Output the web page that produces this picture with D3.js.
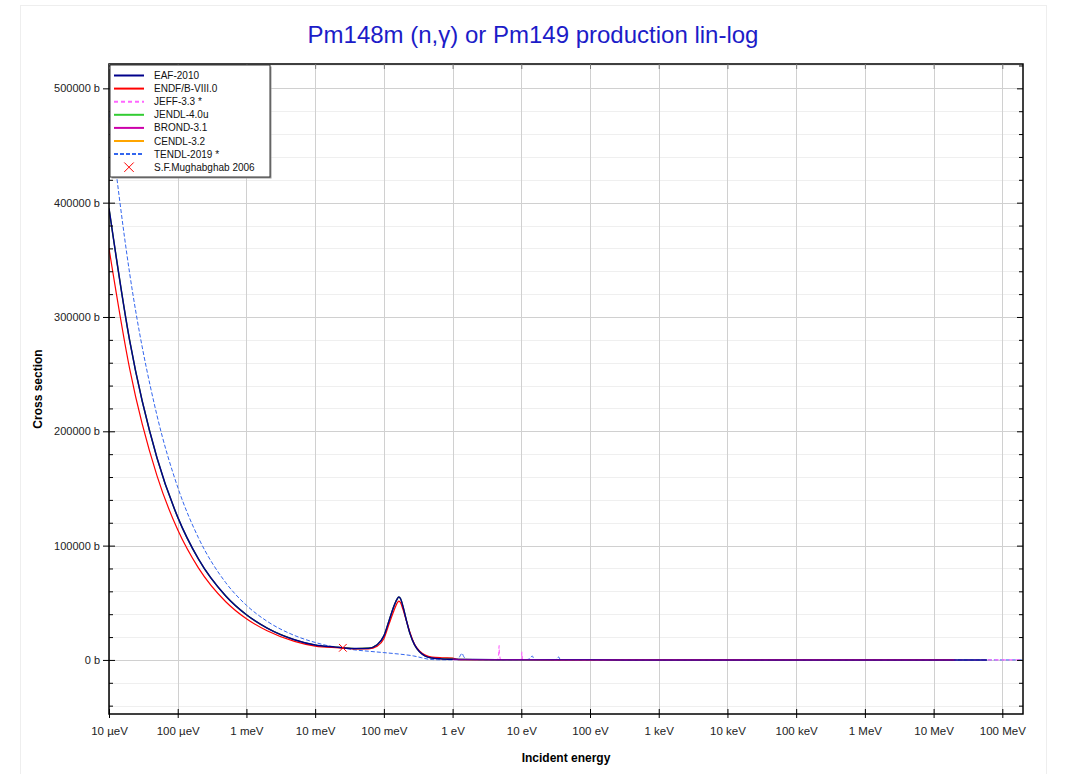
<!DOCTYPE html>
<html>
<head>
<meta charset="utf-8">
<script src="https://cdn.jsdelivr.net/npm/d3@7"></script>
<style>
  body { margin: 0; background: #fff; }
  svg { font-family: "Liberation Sans", Arial, sans-serif; }
</style>
</head>
<body>
<div id="chart"></div>
<script>
// energy grid below 1 eV (eV)
const lowE = [1e-5, 2e-5, 5e-5, 1e-4, 2e-4, 5e-4, 1e-3, 2e-3, 5e-3, 0.01, 0.02, 0.0253, 0.04, 0.06, 0.08,
  0.1, 0.12, 0.14, 0.155, 0.165, 0.175, 0.19, 0.21, 0.24, 0.28, 0.33, 0.4, 0.5, 0.7, 1.0]
// energy grid above 1 eV
const highE = [1.2, 2, 10, 100, 1e3, 1e4, 1e5, 1e6, 1e7, 2e7]

const eafLow = [395000, 279300, 176600, 124900, 88300, 55900, 39500, 27900, 17700, 13000, 11200, 10600, 9900, 10300, 13300,
  21000, 35000, 47000, 53000, 55000, 53500, 46600, 36000, 23000, 13100, 7200, 3400, 1700, 900, 600]
const eafHigh = [400, 300, 200, 80, 25, 8, 3, 1, 0.5, 0.4]
const eafTailE = [6e7]
const eafTail = [0.3]

const endfLow = [360000, 254600, 161000, 113800, 80500, 50900, 36000, 25500, 16200, 12100, 10700, 10400, 9600, 9700, 12000,
  18500, 32000, 43000, 49500, 51500, 50000, 44000, 35500, 24000, 13600, 7800, 4200, 2400, 1900, 1700]
const endfHigh = [350, 300, 200, 80, 25, 8, 3, 1, 0.5, 0.4]

const jendlLow = [395000, 279300, 176600, 124900, 88300, 55900, 39500, 27900, 17700, 13000, 11200, 10600, 9900, 10300, 13300,
  21000, 35000, 47000, 53000, 55000, 53500, 46600, 36000, 23000, 13100, 7200, 3400, 1700, 1400, 1300]
const jendlHigh = [400, 300, 200, 80, 25, 8, 3, 1, 0.5, 0.4]

const brondE = [1.0, 1.2, 2, 10, 100, 1e3, 1e4, 1e5, 1e6, 1e7, 2e7]
const brondV = [600, 400, 300, 200, 80, 25, 8, 3, 1, 0.5, 0.4]

const cendlLow = eafLow
const cendlHigh = eafHigh

const tendlE = [1e-5, 2e-5, 5e-5, 1e-4, 2e-4, 5e-4, 1e-3, 2e-3, 5e-3, 0.01, 0.02, 0.0253, 0.04, 0.06, 0.1, 0.15, 0.2, 0.27,
  0.35, 0.45, 0.6, 1.0, 1.2, 1.3, 1.37, 1.45, 1.6, 3, 12, 13.5, 14.4, 15.5, 30, 33, 35, 37, 100, 1e3, 1e4, 1e5, 1e6, 1e7, 2e8]
const tendlV = [478000, 338000, 213700, 151100, 106900, 67600, 47800, 33800, 21400, 15300, 11100, 10300, 8600, 7600, 6400, 5400, 4600, 3500,
  2000, 600, 150, 100, 800, 4000, 5800, 3000, 400, 200, 300, 1500, 3500, 300, 200, 800, 2600, 200, 100, 30, 10, 3, 1, 0.5, 0.1]

const jeffE = [1.0, 2, 4.5, 4.7, 4.75, 4.8, 5.0, 8, 10.0, 10.2, 10.4, 13, 20, 100, 1e3, 1e4, 1e5, 1e6, 1e7, 2e8]
const jeffV = [300, 200, 300, 6000, 12500, 6000, 300, 200, 300, 6800, 300, 200, 150, 100, 30, 10, 3, 1, 0.5, 0.1]

const expE = [0.0253]
const expV = [10600]

const xTicks = [1e-5, 1e-4, 1e-3, 1e-2, 1e-1, 1, 10, 100, 1e3, 1e4, 1e5, 1e6, 1e7, 1e8]
const xTickLabels = ['10 µeV', '100 µeV', '1 meV', '10 meV', '100 meV', '1 eV', '10 eV', '100 eV',
  '1 keV', '10 keV', '100 keV', '1 MeV', '10 MeV', '100 MeV']
const yTicks = [0, 100000, 200000, 300000, 400000, 500000]

const zip = (es, vs) => es.map((e, i) => [e, vs[i]])

const series = [
  {name: 'EAF-2010', color: '#00008b', width: 1.5, dash: null, data: zip(lowE.concat(highE.slice(0, 9), eafTailE), eafLow.concat(eafHigh.slice(0, 9), eafTail))},
  {name: 'ENDF/B-VIII.0', color: '#ff0000', width: 1.2, dash: null, data: zip(lowE.concat(highE), endfLow.concat(endfHigh))},
  {name: 'JEFF-3.3 *', color: '#ff66ff', width: 1.2, dash: '4,3', data: zip(jeffE, jeffV)},
  {name: 'JENDL-4.0u', color: '#33cc33', width: 1.2, dash: null, data: zip(lowE.concat(highE), jendlLow.concat(jendlHigh))},
  {name: 'BROND-3.1', color: '#cc00aa', width: 1.2, dash: null, data: zip(brondE, brondV)},
  {name: 'CENDL-3.2', color: '#ffa500', width: 1.2, dash: null, data: zip(lowE.concat(highE), cendlLow.concat(cendlHigh))},
  {name: 'TENDL-2019 *', color: '#3366ee', width: 1, dash: '4,2', data: zip(tendlE, tendlV)}
]

const W = 1067, H = 774
const margin = {left: 109, right: 1023, top: 64, bottom: 714}

const svg = d3.select('#chart').append('svg').attr('width', W).attr('height', H)

// page frame
svg.append('rect').attr('x', 20.5).attr('y', 5.5).attr('width', 1026).attr('height', 800)
  .attr('fill', '#fff').attr('stroke', '#eeeeee')

svg.append('text').attr('x', 533).attr('y', 43).attr('text-anchor', 'middle')
  .attr('font-size', 24).attr('fill', '#1c1cc8').text('Pm148m (n,γ) or Pm149 production lin-log')

const x = d3.scaleLog().domain([1e-5, 2e8]).range([margin.left, margin.right])
const y = d3.scaleLinear().domain([-47300, 521300]).range([margin.bottom, margin.top])

// grid
const minorY = d3.range(-40000, 521000, 20000).filter(v => v % 100000 !== 0)
svg.append('g').selectAll('line').data(minorY).join('line')
  .attr('x1', margin.left).attr('x2', margin.right)
  .attr('y1', d => Math.round(y(d)) + 0.5).attr('y2', d => Math.round(y(d)) + 0.5)
  .attr('stroke', '#efefef')
svg.append('g').selectAll('line').data(yTicks).join('line')
  .attr('x1', margin.left).attr('x2', margin.right)
  .attr('y1', d => Math.round(y(d)) + 0.5).attr('y2', d => Math.round(y(d)) + 0.5)
  .attr('stroke', '#d0d0d0')
svg.append('g').selectAll('line').data(xTicks).join('line')
  .attr('x1', d => Math.round(x(d)) + 0.5).attr('x2', d => Math.round(x(d)) + 0.5)
  .attr('y1', margin.top).attr('y2', margin.bottom)
  .attr('stroke', '#d0d0d0')

// curves
svg.append('clipPath').attr('id', 'clip').append('rect')
  .attr('x', margin.left).attr('y', margin.top)
  .attr('width', margin.right - margin.left).attr('height', margin.bottom - margin.top)

const line = d3.line().x(d => x(d[0])).y(d => y(d[1])).curve(d3.curveMonotoneX)
const plot = svg.append('g').attr('clip-path', 'url(#clip)')
const drawOrder = ['CENDL-3.2', 'JENDL-4.0u', 'TENDL-2019 *', 'JEFF-3.3 *', 'ENDF/B-VIII.0', 'EAF-2010', 'BROND-3.1']
drawOrder.forEach(n => {
  const s = series.find(d => d.name === n)
  plot.append('path').datum(s.data)
    .attr('d', line).attr('fill', 'none')
    .attr('stroke', s.color).attr('stroke-width', s.width)
    .attr('stroke-dasharray', s.dash)
    .attr('stroke-opacity', n === 'BROND-3.1' ? 0.55 : 1)
})

// experimental point
const cross = d3.symbol().type(d3.symbolX).size(40)
plot.selectAll('.exp').data(zip(expE, expV)).join('path')
  .attr('class', 'exp')
  .attr('transform', d => `translate(${x(d[0])},${y(d[1])})`)
  .attr('d', cross).attr('fill', 'none').attr('stroke', '#ff0000').attr('stroke-width', 1)

// frame
svg.append('rect').attr('x', margin.left).attr('y', margin.top)
  .attr('width', margin.right - margin.left).attr('height', margin.bottom - margin.top)
  .attr('fill', 'none').attr('stroke', '#000').attr('stroke-width', 1.5)

// axes
const xAxis = svg.append('g').attr('transform', `translate(0,${margin.bottom})`)
  .call(d3.axisBottom(x).tickValues(xTicks).tickSize(4).tickPadding(9)
    .tickFormat((d, i) => xTickLabels[i]))
xAxis.select('.domain').remove()
xAxis.selectAll('.tick line').attr('y1', -5).attr('y2', 4)
xAxis.selectAll('text').attr('font-size', 11.5).attr('fill', '#222').attr('font-family', '"Liberation Sans", Arial, sans-serif')

const topTicks = svg.append('g').attr('transform', `translate(0,${margin.top})`)
  .call(d3.axisTop(x).tickValues(xTicks).tickSize(-5).tickFormat(''))
topTicks.select('.domain').remove()
topTicks.selectAll('.tick line').attr('stroke', '#777')

const yAxis = svg.append('g').attr('transform', `translate(${margin.left},0)`)
  .call(d3.axisLeft(y).tickValues(yTicks).tickSize(6).tickPadding(3).tickFormat(d => d + ' b'))
yAxis.select('.domain').remove()
yAxis.selectAll('.tick line').attr('x1', 6)
yAxis.selectAll('text').attr('font-size', 11).attr('fill', '#222').attr('font-family', '"Liberation Sans", Arial, sans-serif')

const yMinor = svg.append('g').attr('transform', `translate(${margin.left},0)`)
  .call(d3.axisRight(y).tickValues(minorY).tickSize(4).tickFormat(''))
yMinor.select('.domain').remove()

const yRight = svg.append('g').attr('transform', `translate(${margin.right},0)`)
  .call(d3.axisLeft(y).tickValues(yTicks).tickSize(6).tickFormat(''))
yRight.select('.domain').remove()
const yRightMinor = svg.append('g').attr('transform', `translate(${margin.right},0)`)
  .call(d3.axisLeft(y).tickValues(minorY).tickSize(4).tickFormat(''))
yRightMinor.select('.domain').remove()

// axis titles
svg.append('text').attr('x', (margin.left + margin.right) / 2).attr('y', 762)
  .attr('text-anchor', 'middle').attr('font-size', 12).attr('font-weight', 'bold').text('Incident energy')
svg.append('text').attr('transform', `translate(42,${(margin.top + margin.bottom) / 2}) rotate(-90)`)
  .attr('text-anchor', 'middle').attr('font-size', 12).attr('font-weight', 'bold').text('Cross section')

// legend
const lg = svg.append('g').attr('transform', 'translate(110,65)')
lg.append('rect').attr('x', 1.5).attr('y', 1.5).attr('width', 160).attr('height', 112).attr('fill', '#999')
lg.append('rect').attr('width', 160).attr('height', 112).attr('fill', '#fff').attr('stroke', '#333')
series.forEach((s, i) => {
  const yy = 10.5 + i * 13.1
  lg.append('line').attr('x1', 4).attr('x2', 34).attr('y1', yy).attr('y2', yy)
    .attr('stroke', s.color).attr('stroke-width', 2).attr('stroke-dasharray', s.dash)
  lg.append('text').attr('x', 44).attr('y', yy + 3.5).attr('font-size', 10).attr('fill', '#111').text(s.name)
})
const expY = 10.5 + series.length * 13.1
lg.append('path').attr('transform', `translate(19,${expY})`).attr('d', d3.symbol().type(d3.symbolX).size(60))
  .attr('fill', 'none').attr('stroke', '#ff0000').attr('stroke-width', 1)
lg.append('text').attr('x', 44).attr('y', expY + 3.5).attr('font-size', 10).attr('fill', '#111').text('S.F.Mughabghab 2006')
</script>
</body>
</html>
